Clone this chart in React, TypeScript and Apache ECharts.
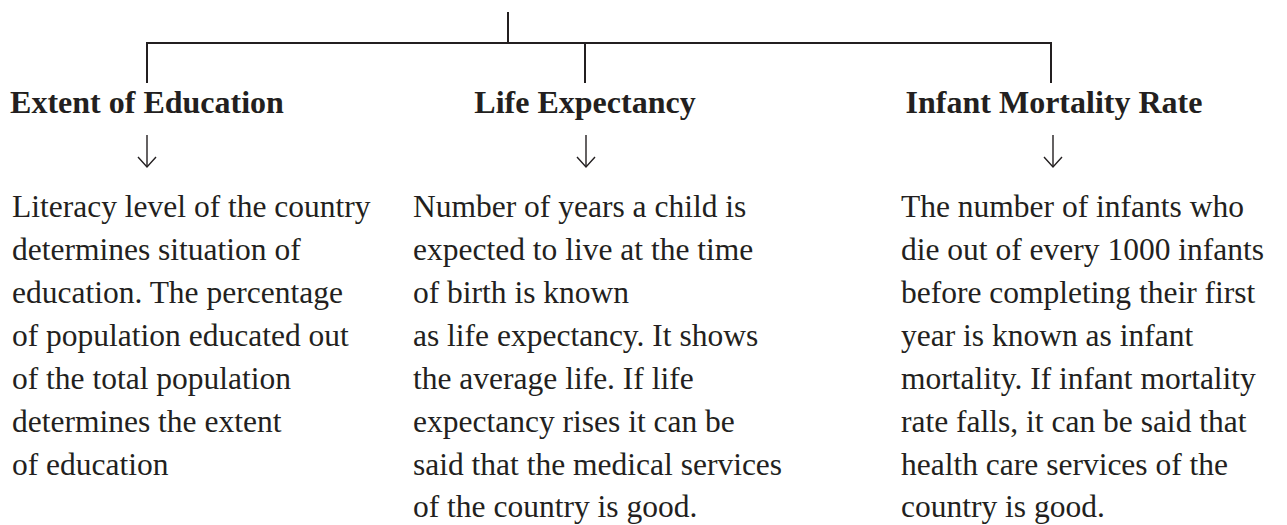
import React, { useEffect, useRef } from "react";
import * as echarts from "echarts";

const headings: string[] = ["Extent of Education", "Life Expectancy", "Infant Mortality Rate"];

const educationLines: string[] = [
  "Literacy level of the country",
  "determines situation of",
  "education. The percentage",
  "of population educated out",
  "of the total population",
  "determines the extent",
  "of education",
];

const lifeLines: string[] = [
  "Number of years a child is",
  "expected to live at the time",
  "of birth is known",
  "as life expectancy. It shows",
  "the average life. If life",
  "expectancy rises it can be",
  "said that the medical services",
  "of the country is good.",
];

const infantLines: string[] = [
  "The number of infants who",
  "die out of every 1000 infants",
  "before completing their first",
  "year is known as infant",
  "mortality. If infant mortality",
  "rate falls, it can be said that",
  "health care services of the",
  "country is good.",
];

const bodies: string[][] = [educationLines, lifeLines, infantLines];

// layout (pixel positions, not data)
const W = 1287;
const H = 525;
const INK = "#231f20";
const SERIF = "'Liberation Serif', 'Times New Roman', serif";
const rootX = 508;
const rootTop = 12;
const barY = 43;
const branchBottom = 83;
const branchXs = [147, 585, 1051];
const headingCenters = [147, 585, 1054];
const arrowXs = [147, 586, 1053];
const headingBaseline = 113;
const arrowTop = 135;
const arrowBottom = 167;
const bodyXs = [12, 413, 901];
const bodyFirstBaseline = 217.5;
const bodyLineGap = 42.9;
const headingSize = 32;
const bodySize = 31.5;
// zrender SVG text with verticalAlign "bottom": baseline = y - 0.1625 * size
const BASE_K = 0.1625;

export default function App() {
  const ref = useRef<HTMLDivElement>(null);

  useEffect(() => {
    if (!ref.current) return;
    const chart = echarts.init(ref.current, undefined, { renderer: "svg" });
    const elements: any[] = [];
    const lineStyle = { stroke: INK, lineWidth: 2 };

    elements.push({
      type: "line",
      shape: { x1: rootX, y1: rootTop, x2: rootX, y2: barY },
      style: lineStyle,
    });
    elements.push({
      type: "line",
      shape: { x1: branchXs[0] - 1, y1: barY, x2: branchXs[2] + 1, y2: barY },
      style: lineStyle,
    });

    headings.forEach((h, i) => {
      const bx = branchXs[i];
      const ax = arrowXs[i];
      elements.push({
        type: "line",
        shape: { x1: bx, y1: barY, x2: bx, y2: branchBottom },
        style: lineStyle,
      });
      elements.push({
        type: "text",
        x: headingCenters[i],
        y: headingBaseline + BASE_K * headingSize,
        style: {
          text: h,
          font: `bold ${headingSize}px ${SERIF}`,
          fill: INK,
          align: "center",
          verticalAlign: "bottom",
        },
      });
      elements.push({
        type: "line",
        shape: { x1: ax, y1: arrowTop, x2: ax, y2: arrowBottom },
        style: { stroke: INK, lineWidth: 1.4 },
      });
      elements.push({
        type: "polyline",
        shape: {
          points: [
            [ax - 9, arrowBottom - 10],
            [ax, arrowBottom],
            [ax + 9, arrowBottom - 10],
          ],
        },
        style: { stroke: INK, lineWidth: 1.4, fill: "none" },
      });
      bodies[i].forEach((t, j) => {
        elements.push({
          type: "text",
          x: bodyXs[i],
          y: bodyFirstBaseline + j * bodyLineGap + BASE_K * bodySize,
          style: {
            text: t,
            font: `${bodySize}px ${SERIF}`,
            fill: INK,
            align: "left",
            verticalAlign: "bottom",
          },
        });
      });
    });

    chart.setOption({
      animation: false,
      backgroundColor: "#ffffff",
      graphic: { elements },
    });
    return () => chart.dispose();
  }, []);

  return (
    <div
      ref={ref}
      style={{ position: "fixed", left: 0, top: 0, width: W, height: H, background: "#fff" }}
    />
  );
}
